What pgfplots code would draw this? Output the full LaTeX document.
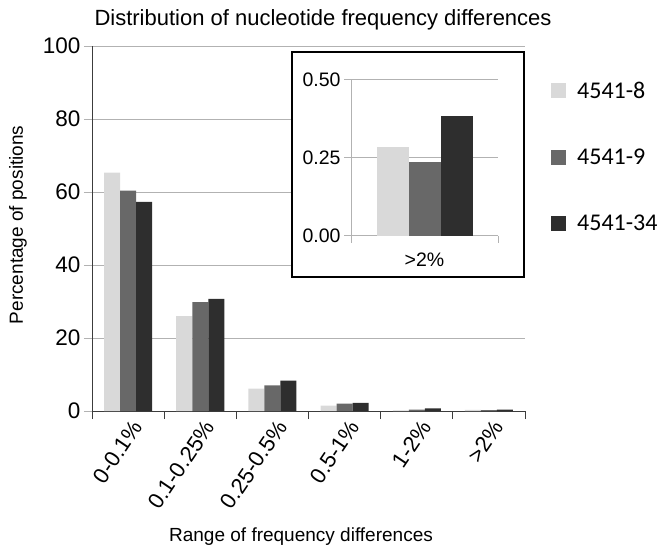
\documentclass[border=0pt]{standalone}
\usepackage{fontspec}
\setmainfont{Liberation Sans}
\newfontfamily\carlito{Carlito}
\usepackage{pgfplots}
\pgfplotsset{compat=1.18}
\definecolor{cLight}{RGB}{217,217,217}
\definecolor{cMid}{RGB}{104,104,104}
\definecolor{cDark}{RGB}{46,46,46}
\definecolor{cGrid}{RGB}{178,178,178}
\definecolor{cAxis}{RGB}{60,60,60}
\begin{document}
\begin{tikzpicture}
\begin{axis}[
  at={(0pt,0pt)}, anchor=south west,
  width=433pt, height=365pt, scale only axis,
  xmin=-0.5, xmax=5.5, ymin=0, ymax=100,
  ybar=0pt, bar width=16pt,
  axis lines=left, axis line style={-, cAxis, line width=0.9pt},
  xtick={0,...,5},
  xticklabels={0-0.1\%,0.1-0.25\%,0.25-0.5\%,0.5-1\%,1-2\%,>2\%},
  minor xtick={-0.5,0.5,...,5.5},
  ytick={0,20,...,100},
  tick align=outside,
  x tick style={draw=none},
  minor x tick style={draw=cAxis, line width=0.9pt},
  minor tick length=8pt,
  y tick style={draw=cGrid, line width=0.9pt},
  major tick length=8pt,
  ymajorgrids, grid style={cGrid, line width=0.9pt},
  /pgf/number format/assume math mode=true,
  yticklabel style={font=\fontsize{22.5}{26}\selectfont},
  xticklabel style={font=\fontsize{22}{26}\selectfont, rotate=56, anchor=north east, inner sep=2pt, xshift=4pt},
  title={Distribution of nucleotide frequency differences},
  title style={at={(axis description cs:0,1)}, anchor=base west, yshift=14pt, xshift=-1pt, font=\fontsize{22}{26}\selectfont},
  xlabel={Range of frequency differences},
  xlabel style={at={(axis description cs:0.17,-0.345)}, anchor=west, font=\fontsize{19}{22}\selectfont},
  ylabel={Percentage of positions},
  ylabel style={at={(axis description cs:-0.171,0.51)}, anchor=center, font=\fontsize{19}{22}\selectfont},
  legend style={draw=none, fill=none, at={(axis description cs:1.060,0.902)}, anchor=north west,
    inner sep=0pt, row sep=49pt,
    nodes={inner sep=0pt, font=\carlito\fontsize{24}{28}\selectfont},
    /tikz/every odd column/.append style={column sep=11pt}},
  legend cell align=left,
  legend image code/.code={\fill[#1] (0pt,-7.5pt) rectangle (15pt,7.5pt);},
]
\addplot[fill=cLight, draw=none] coordinates {(0,65.3) (1,26.0) (2,6.1) (3,1.5) (4,0.2) (5,0.28)};
\addplot[fill=cMid, draw=none] coordinates {(0,60.4) (1,29.8) (2,7.0) (3,2.0) (4,0.4) (5,0.23)};
\addplot[fill=cDark, draw=none] coordinates {(0,57.3) (1,30.7) (2,8.3) (3,2.2) (4,0.7) (5,0.38)};
\legend{4541-8,4541-9,4541-34}
\end{axis}
\draw[black, line width=1.2pt, fill=white] (200pt,134pt) rectangle (432pt,359pt);
\begin{axis}[
  at={(259pt,175.3pt)}, anchor=south west,
  width=147pt, height=156.4pt, scale only axis,
  xmin=-0.5, xmax=0.5, ymin=0, ymax=0.5,
  ybar=0pt, bar width=32pt,
  axis lines=left, axis line style={-, cGrid, line width=0.9pt},
  xtick={0}, xticklabels={>2\%},
  minor xtick={-0.5,0.5},
  ytick={0,0.25,0.5}, yticklabels={0.00,0.25,0.50},
  tick align=outside,
  x tick style={draw=none},
  minor x tick style={draw=cGrid, line width=0.9pt},
  minor tick length=7pt,
  y tick style={draw=cGrid, line width=0.9pt},
  major tick length=7pt,
  ymajorgrids, grid style={cGrid, line width=0.9pt},
  yticklabel style={font=\fontsize{19.5}{22}\selectfont},
  xticklabel style={font=\fontsize{19.5}{22}\selectfont, yshift=-7pt},
]
\addplot[fill=cLight, draw=none] coordinates {(0,0.284)};
\addplot[fill=cMid, draw=none] coordinates {(0,0.235)};
\addplot[fill=cDark, draw=none] coordinates {(0,0.383)};
\end{axis}
\pgfresetboundingbox
\path[use as bounding box] (-92pt,-138pt) rectangle (574pt,411pt);
\end{tikzpicture}
\end{document}
